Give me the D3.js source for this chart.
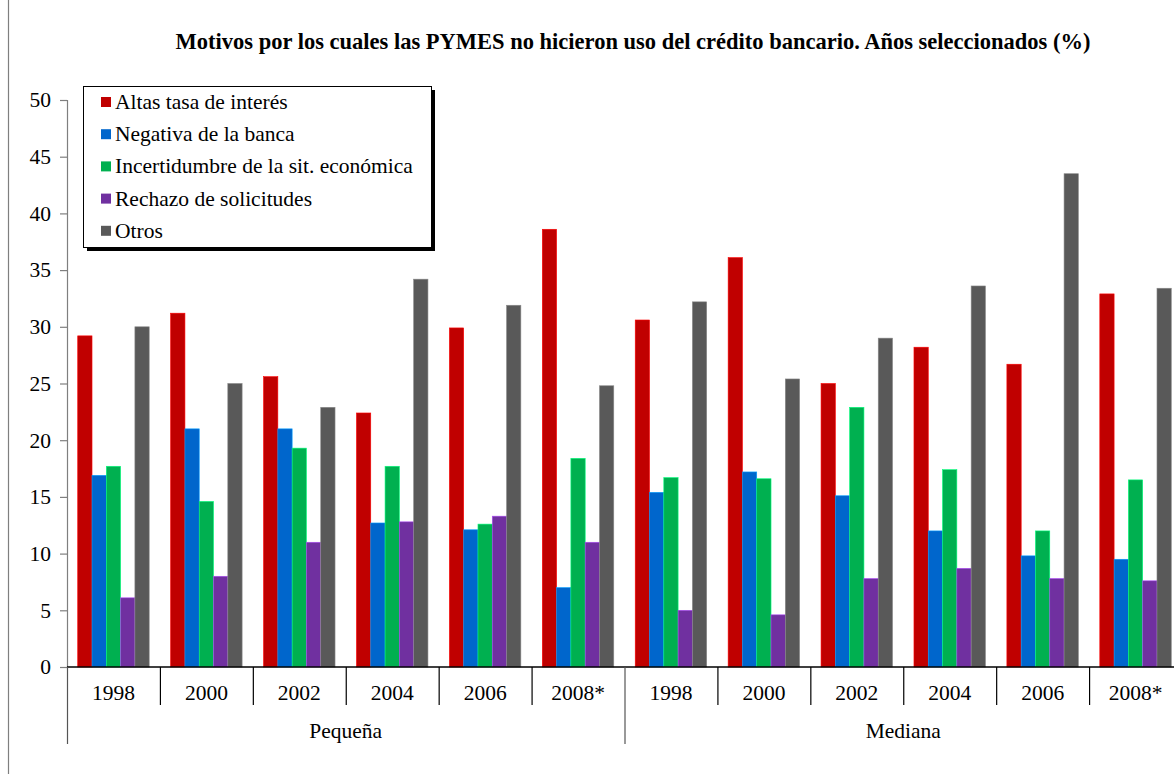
<!DOCTYPE html>
<html>
<head>
<meta charset="utf-8">
<script src="https://cdn.jsdelivr.net/npm/d3@7"></script>
<style>
  html, body { margin: 0; padding: 0; background: #fff; }
  svg { display: block; font-family: "Liberation Serif", "Times New Roman", serif; }
</style>
</head>
<body>
<svg id="chart" width="1174" height="774"></svg>
<script>
// Company sizes and survey years (x-axis, two levels)
const groups = ["Pequeña", "Mediana"];
const years = ["1998", "2000", "2002", "2004", "2006", "2008*"];

// Reasons (series) and their colours
const seriesNames = [
  "Altas tasa de interés",
  "Negativa de la banca",
  "Incertidumbre de la sit. económica",
  "Rechazo de solicitudes",
  "Otros"
];
const seriesColors = ["#C00000", "#0066CC", "#00B050", "#7030A0", "#595959"];

// Percentages per series: 6 years of Pequeña followed by 6 years of Mediana
const altasTasa    = [29.2, 31.2, 25.6, 22.4, 29.9, 38.6,   30.6, 36.1, 25.0, 28.2, 26.7, 32.9];
const negativaBanca = [16.9, 21.0, 21.0, 12.7, 12.1, 7.0,   15.4, 17.2, 15.1, 12.0, 9.8, 9.5];
const incertidumbre = [17.7, 14.6, 19.3, 17.7, 12.6, 18.4,  16.7, 16.6, 22.9, 17.4, 12.0, 16.5];
const rechazo       = [6.1, 8.0, 11.0, 12.8, 13.3, 11.0,    5.0, 4.6, 7.8, 8.7, 7.8, 7.6];
const otros         = [30.0, 25.0, 22.9, 34.2, 31.9, 24.8,  32.2, 25.4, 29.0, 33.6, 43.5, 33.4];
const seriesValues = [altasTasa, negativaBanca, incertidumbre, rechazo, otros];

// Y-axis ticks
const yTicks = [0, 5, 10, 15, 20, 25, 30, 35, 40, 45, 50];

const title = "Motivos por los cuales las PYMES no hicieron uso del crédito bancario. Años seleccionados (%)";

const FONT = "Liberation Serif, Times New Roman, serif";
const svg = d3.select("#chart");

// Outer chart border
svg.append("rect")
  .attr("x", 8.5).attr("y", -10)
  .attr("width", 1200).attr("height", 2000)
  .attr("fill", "none").attr("stroke", "#7f7f7f").attr("stroke-width", 1.2);

// Title
svg.append("text")
  .attr("x", 633).attr("y", 49)
  .attr("text-anchor", "middle")
  .attr("font-family", FONT)
  .attr("font-weight", "bold")
  .attr("font-size", 22.5)
  .attr("fill", "#000")
  .text(title);

// Layout of the plot area
const plotLeft = 67, plotRight = 1182, plotTop = 100, plotBottom = 667;

// Category keys combine group and year
const categories = [];
groups.forEach(g => years.forEach(y => categories.push(g + "|" + y)));

const x = d3.scaleBand().domain(categories).range([plotLeft, plotRight]).paddingInner(0).paddingOuter(0);
const xs = d3.scaleBand().domain(d3.range(seriesNames.length))
  .range([0, x.bandwidth()]).paddingInner(0).paddingOuter(0.75);
const y = d3.scaleLinear().domain([0, 50]).range([plotBottom, plotTop]);

// Bars
const barData = [];
seriesValues.forEach((vals, si) => {
  vals.forEach((v, ci) => barData.push({ s: si, c: categories[ci], v: v }));
});

svg.append("g").selectAll("rect")
  .data(barData)
  .join("rect")
  .attr("x", d => x(d.c) + xs(d.s))
  .attr("y", d => y(d.v))
  .attr("width", xs.bandwidth())
  .attr("height", d => y(0) - y(d.v))
  .attr("fill", d => seriesColors[d.s])
  .attr("stroke", d => d3.color(seriesColors[d.s]).brighter(1.2))
  .attr("stroke-width", 0.6);

// Y axis
const yAxis = d3.axisLeft(y).tickValues(yTicks).tickSize(7).tickPadding(9);
const gy = svg.append("g").attr("transform", `translate(${plotLeft},0)`).call(yAxis);
gy.select(".domain").attr("stroke", "#7f7f7f").attr("stroke-width", 1.2);
gy.selectAll(".tick line").attr("stroke", "#7f7f7f").attr("stroke-width", 1.2);
gy.selectAll(".tick text")
  .attr("font-family", FONT)
  .attr("font-size", 21.5).attr("fill", "#000");

// X axis baseline
const gx = svg.append("g");
gx.append("line")
  .attr("x1", plotLeft).attr("x2", plotRight)
  .attr("y1", plotBottom).attr("y2", plotBottom)
  .attr("stroke", "#000").attr("stroke-width", 1.5);

// Category separators (year level)
categories.forEach((c, i) => {
  if (i === 0 || i === years.length) return;
  gx.append("line")
    .attr("x1", x(c) + 0.5).attr("x2", x(c) + 0.5)
    .attr("y1", plotBottom).attr("y2", 705)
    .attr("stroke", "#000").attr("stroke-width", 1.2);
});
// Group separators
groups.forEach((g) => {
  const cx = x(g + "|" + years[0]);
  gx.append("line")
    .attr("x1", cx + 0.5).attr("x2", cx + 0.5)
    .attr("y1", plotBottom).attr("y2", 744)
    .attr("stroke", "#555").attr("stroke-width", 1.2);
});

// Year labels
gx.selectAll("text.year")
  .data(categories)
  .join("text")
  .attr("class", "year")
  .attr("x", c => x(c) + x.bandwidth() / 2)
  .attr("y", 700)
  .attr("text-anchor", "middle")
  .attr("font-family", FONT)
  .attr("font-size", 21.5)
  .attr("fill", "#000")
  .text(c => c.split("|")[1]);

// Group labels
gx.selectAll("text.group")
  .data(groups)
  .join("text")
  .attr("class", "group")
  .attr("x", g => x(g + "|" + years[0]) + x.bandwidth() * years.length / 2)
  .attr("y", 738)
  .attr("text-anchor", "middle")
  .attr("font-family", FONT)
  .attr("font-size", 21.5)
  .attr("fill", "#000")
  .text(g => g);

// Legend with drop shadow
const legend = svg.append("g");
const lx = 83, ly = 86, lw = 348, lh = 161;
legend.append("rect")
  .attr("x", lx + 4).attr("y", ly + 4).attr("width", lw).attr("height", lh)
  .attr("fill", "#000");
legend.append("rect")
  .attr("x", lx + 0.5).attr("y", ly + 0.5).attr("width", lw).attr("height", lh)
  .attr("fill", "#fff").attr("stroke", "#000").attr("stroke-width", 1);

const legendItems = legend.selectAll("g.item")
  .data(seriesNames)
  .join("g")
  .attr("class", "item")
  .attr("transform", (d, i) => `translate(${lx + 18},${ly + 16 + i * 32.2})`);
legendItems.append("rect")
  .attr("x", 0).attr("y", -5).attr("width", 10).attr("height", 10)
  .attr("fill", (d, i) => seriesColors[i]);
legendItems.append("text")
  .attr("x", 14).attr("y", 7)
  .attr("font-family", FONT)
  .attr("font-size", 21.5)
  .attr("fill", "#000")
  .text(d => d);
</script>
</body>
</html>
